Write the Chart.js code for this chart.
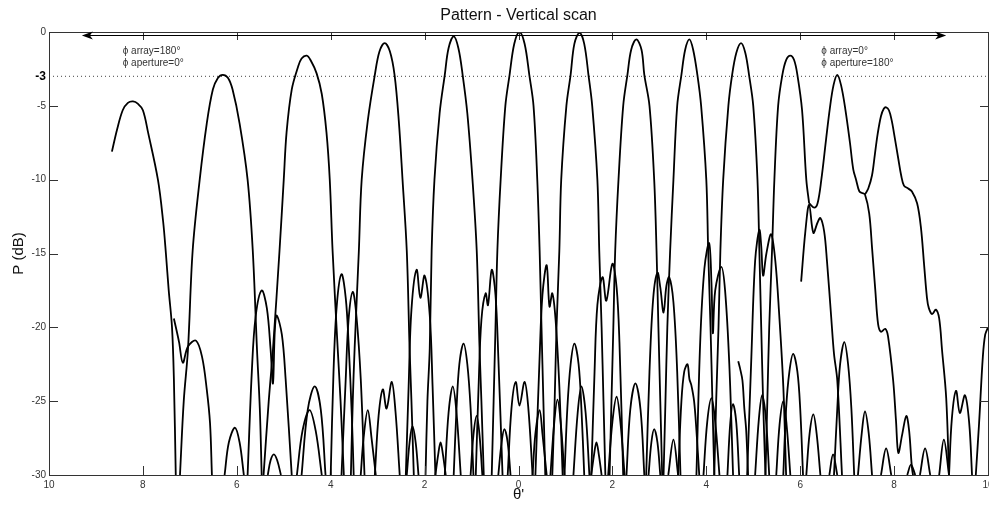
<!DOCTYPE html>
<html><head><meta charset="utf-8">
<script src="https://cdn.jsdelivr.net/npm/chart.js@4"></script>
<style>html,body{margin:0;padding:0;background:#fff;}#c{display:block;}</style>
</head><body>
<canvas id="c" width="989" height="506"></canvas>
<script>
// ---- text ----
const chartTitle = 'Pattern - Vertical scan';
const yTitle = 'P (dB)';
const xTitle = "θ'";
const noteLeft = ['ϕ array=180°', 'ϕ aperture=0°'];
const noteRight = ['ϕ array=0°', 'ϕ aperture=180°'];
const noteLeftX = -8.43, noteRightX = 6.45;
const noteRowsY = [-1.3, -2.1];
// ---- axes ----
const xRange = [-10, 10];
const xStep = 2;
const yRange = [-30, 0];
const yStep = 5;
const halfPowerLevel = -3;
const arrowSpan = [-9.30, 9.11];
const arrowLevel = -0.2;

// ---- main beams [theta, dB] ----
const beam1 = [[-8.66,-8.1],[-8.55,-6.6],[-8.43,-5.3],[-8.32,-4.8],[-8.21,-4.7],[-8.11,-4.85],[-8.0,-5.3],[-7.89,-6.8],[-7.68,-10],[-7.57,-12.8],[-7.51,-15],[-7.45,-17.5],[-7.38,-20],[-7.34,-23.5],[-7.30,-30]];
const beam2 = [[-7.21,-30],[-7.13,-25],[-7.04,-21.5],[-6.94,-14.8],[-6.79,-10],[-6.64,-6.2],[-6.51,-3.9],[-6.40,-3.1],[-6.30,-2.9],[-6.19,-3.1],[-6.09,-3.9],[-5.94,-6.2],[-5.77,-10],[-5.66,-14.8],[-5.57,-21.5],[-5.51,-25.5],[-5.47,-30]];
const beam3 = [[-5.43,-30],[-5.32,-25],[-5.23,-21.5],[-5.09,-14.8],[-5.0,-10],[-4.94,-6.8],[-4.83,-3.9],[-4.70,-2.4],[-4.62,-1.8],[-4.51,-1.6],[-4.43,-1.9],[-4.30,-2.8],[-4.19,-4.2],[-4.09,-6.8],[-4.02,-10],[-3.96,-14.8],[-3.85,-21.5],[-3.79,-25],[-3.72,-30]];
const beam4 = [[-3.57,-30],[-3.53,-25],[-3.49,-21.4],[-3.40,-14.8],[-3.34,-10],[-3.21,-6],[-3.06,-2.9],[-2.96,-1.3],[-2.85,-0.75],[-2.74,-1.3],[-2.64,-2.9],[-2.55,-6],[-2.47,-10],[-2.38,-14.8],[-2.32,-21.4],[-2.28,-25],[-2.23,-30]];
const beam5 = [[-1.98,-30],[-1.94,-25],[-1.89,-21.4],[-1.85,-14.8],[-1.79,-10],[-1.68,-5.5],[-1.57,-2.9],[-1.49,-1.1],[-1.38,-0.3],[-1.28,-1.1],[-1.19,-2.9],[-1.09,-5.5],[-0.98,-10],[-0.89,-14.8],[-0.83,-21.4],[-0.79,-25],[-0.74,-30]];
const beam6 = [[-0.57,-30],[-0.53,-25],[-0.49,-20],[-0.45,-14.8],[-0.38,-10],[-0.28,-5],[-0.19,-2.9],[-0.09,-0.8],[0.02,0],[0.13,-0.8],[0.23,-2.9],[0.32,-5],[0.40,-10],[0.45,-14.8],[0.49,-20],[0.53,-25],[0.57,-30]];
const beam7 = [[0.72,-30],[0.77,-25],[0.81,-20],[0.87,-14.8],[0.91,-10],[1.02,-5],[1.11,-2.9],[1.19,-0.8],[1.30,-0.05],[1.40,-0.8],[1.49,-2.9],[1.57,-5],[1.68,-10],[1.72,-14.8],[1.77,-20],[1.81,-25],[1.85,-30]];
const beam8 = [[1.94,-30],[1.98,-25],[2.02,-20],[2.06,-14.8],[2.13,-10],[2.23,-5],[2.32,-2.9],[2.40,-1.2],[2.51,-0.5],[2.62,-1.2],[2.68,-2.9],[2.79,-5],[2.89,-10],[2.94,-14.8],[2.98,-20],[3.02,-25],[3.06,-30]];
const beam9 = [[3.09,-30],[3.13,-25],[3.17,-20],[3.23,-14.8],[3.30,-10],[3.38,-5],[3.47,-2.9],[3.55,-1.2],[3.64,-0.5],[3.72,-1.2],[3.81,-2.9],[3.89,-5],[4.0,-10],[4.04,-14.8],[4.09,-20],[4.13,-25],[4.17,-30]];
const beam10 = [[4.17,-30],[4.21,-25],[4.26,-20],[4.30,-14.8],[4.36,-10],[4.47,-5],[4.55,-2.9],[4.64,-1.4],[4.74,-0.75],[4.83,-1.4],[4.91,-2.9],[5.0,-5],[5.09,-10],[5.13,-14.8],[5.17,-20],[5.21,-25],[5.26,-30]];
const beam11 = [[5.26,-30],[5.30,-25],[5.34,-20],[5.40,-14.8],[5.45,-10],[5.53,-5],[5.62,-2.9],[5.70,-1.9],[5.79,-1.6],[5.87,-1.9],[5.94,-2.9],[6.04,-5.3],[6.13,-10],[6.19,-11.6]];
const beam12 = [[6.19,-11.6],[6.30,-11.9],[6.37,-11.6],[6.45,-10],[6.55,-7.3],[6.63,-5.2],[6.71,-3.6],[6.79,-2.9],[6.87,-3.6],[6.96,-5.2],[7.06,-7.5],[7.13,-9.3],[7.19,-10],[7.26,-10.8],[7.32,-10.9],[7.38,-11.0],[7.47,-12.3],[7.53,-14.6],[7.60,-17.5],[7.66,-19.8],[7.72,-20.3],[7.81,-20.1],[7.87,-20.6],[7.98,-23.6],[8.04,-26.3],[8.09,-28.5],[8.17,-27.3],[8.26,-26.0],[8.32,-27],[8.38,-29.5],[8.43,-30.5]];
const beam13 = [[7.38,-11.0],[7.45,-10.6],[7.53,-9.7],[7.59,-8.3],[7.65,-6.9],[7.72,-5.7],[7.78,-5.2],[7.83,-5.1],[7.89,-5.3],[7.95,-6.0],[8.0,-6.9],[8.09,-8.6],[8.15,-9.7],[8.21,-10.4],[8.30,-10.6],[8.38,-10.8],[8.49,-11.6],[8.57,-13.2],[8.64,-15.8],[8.70,-18.0],[8.74,-18.7],[8.81,-19.1],[8.89,-18.8],[8.96,-19.4],[9.02,-21.5],[9.11,-24.8],[9.17,-30]];

// ---- partial curves ----
const startLeft = [[-7.34,-19.4],[-7.23,-21.0],[-7.15,-22.4],[-7.04,-21.3],[-6.87,-20.9],[-6.74,-22.0],[-6.64,-24.2],[-6.57,-26.5],[-6.53,-30]];
const startRight = [[6.02,-16.9],[6.11,-13.5],[6.19,-11.7],[6.28,-13.6],[6.37,-12.9],[6.43,-12.6],[6.51,-13.5],[6.57,-15.5],[6.66,-19.3],[6.72,-21.8],[6.79,-23.6],[6.89,-30]];
const edgeRight = [[9.74,-30],[9.81,-26.5],[9.89,-22],[9.94,-20.5],[10.0,-20.0]];
const stubMid = [[4.68,-22.3],[4.72,-22.8],[4.77,-23.6],[4.81,-25.5],[4.85,-27],[4.89,-30]];

// ---- side lobes [theta, dB] ----
const lobesLeft = [
  [[-6.26,-30],[-6.17,-27.8],[-6.04,-26.8],[-5.94,-27.8],[-5.85,-30]],
  [[-5.77,-30],[-5.68,-23],[-5.60,-19.3],[-5.47,-17.5],[-5.36,-18.7],[-5.28,-21.5],[-5.23,-23.8],[-5.19,-20.2],[-5.15,-19.2],[-5.04,-20.5],[-4.96,-23.5],[-4.83,-30]],
  [[-5.34,-30],[-5.28,-29],[-5.21,-28.6],[-5.14,-29],[-5.06,-30]],
  [[-4.62,-30],[-4.49,-25.6],[-4.34,-24],[-4.21,-25.6],[-4.11,-30]],
  [[-4.72,-30],[-4.60,-27],[-4.45,-25.6],[-4.32,-27],[-4.19,-30]],
  [[-4.0,-30],[-3.94,-23],[-3.87,-18.5],[-3.77,-16.4],[-3.68,-18],[-3.62,-21],[-3.55,-26],[-3.51,-30]],
  [[-3.77,-30],[-3.68,-23.5],[-3.62,-19.5],[-3.53,-17.6],[-3.45,-19.3],[-3.36,-23.5],[-3.28,-30]]
];
const lobesCenter = [
  [[-3.36,-30],[-3.30,-27.5],[-3.21,-25.6],[-3.13,-27.5],[-3.04,-30]],
  [[-3.06,-30],[-2.98,-26],[-2.89,-24.2],[-2.81,-25.5],[-2.70,-23.7],[-2.62,-25.7],[-2.53,-30]],
  [[-2.38,-30],[-2.32,-27.8],[-2.26,-26.7],[-2.19,-27.8],[-2.13,-30]],
  [[-2.40,-30],[-2.34,-24],[-2.28,-18.8],[-2.17,-16.1],[-2.09,-18],[-2.0,-16.5],[-1.89,-19.2],[-1.83,-24],[-1.77,-30]],
  [[-1.77,-30],[-1.71,-28.6],[-1.66,-27.8],[-1.61,-28.6],[-1.55,-30]],
  [[-1.57,-30],[-1.49,-25.8],[-1.40,-24],[-1.32,-25.8],[-1.23,-30]],
  [[-1.38,-30],[-1.32,-25.5],[-1.26,-22.5],[-1.17,-21.1],[-1.09,-22.5],[-1.02,-25.5],[-0.96,-30]],
  [[-1.02,-30],[-0.96,-27.3],[-0.89,-26],[-0.83,-27.3],[-0.77,-30]],
  [[-0.91,-30],[-0.85,-24],[-0.79,-19.5],[-0.70,-17.7],[-0.65,-18.5],[-0.57,-16.1],[-0.49,-17.8],[-0.43,-22],[-0.34,-30]],
  [[-0.43,-30],[-0.36,-27.8],[-0.30,-26.9],[-0.23,-27.8],[-0.17,-30]],
  [[-0.23,-30],[-0.15,-25.5],[-0.06,-23.7],[0.02,-25.3],[0.13,-23.7],[0.21,-25.5],[0.30,-30]],
  [[0.30,-30],[0.36,-27.2],[0.45,-25.6],[0.51,-27.2],[0.60,-30]],
  [[0.36,-30],[0.45,-22],[0.51,-17.8],[0.60,-15.8],[0.66,-18.6],[0.72,-17.7],[0.79,-19.5],[0.87,-24],[0.94,-30]],
  [[0.68,-30],[0.76,-26.5],[0.83,-24.9],[0.90,-26.5],[0.98,-30]],
  [[0.98,-30],[1.04,-25.5],[1.11,-22.5],[1.19,-21.1],[1.28,-22.5],[1.34,-25.5],[1.40,-30]],
  [[1.17,-30],[1.26,-25.8],[1.34,-24],[1.43,-25.8],[1.51,-30]],
  [[1.55,-30],[1.61,-28.6],[1.66,-27.8],[1.71,-28.6],[1.77,-30]],
  [[1.55,-30],[1.62,-23],[1.68,-18.5],[1.79,-16.6],[1.87,-18.2],[2.0,-15.7],[2.09,-17.3],[2.15,-21],[2.23,-30]],
  [[1.91,-30],[2.0,-26.4],[2.09,-24.7],[2.17,-26.4],[2.26,-30]],
  [[2.30,-30],[2.38,-25.6],[2.49,-23.8],[2.60,-25.6],[2.68,-30]],
  [[2.77,-30],[2.83,-27.8],[2.89,-26.9],[2.96,-27.8],[3.02,-30]],
  [[2.72,-30],[2.79,-23],[2.87,-18],[2.96,-16.3],[3.02,-17.3],[3.09,-19],[3.15,-17.2],[3.21,-16.6],[3.30,-18.3],[3.38,-23],[3.45,-30]]
];
const lobesRight = [
  [[3.19,-30],[3.30,-27.6],[3.40,-30]],
  [[3.40,-30],[3.47,-25],[3.53,-23],[3.60,-22.5],[3.64,-23.5],[3.68,-23.9],[3.74,-25],[3.79,-27],[3.85,-30]],
  [[3.94,-30],[4.02,-26.4],[4.11,-24.8],[4.19,-26.4],[4.28,-30]],
  [[3.79,-30],[3.87,-21],[3.96,-16],[4.06,-14.3],[4.11,-17],[4.14,-20.4],[4.19,-17.5],[4.32,-15.9],[4.40,-17.5],[4.49,-22.5],[4.57,-30]],
  [[4.45,-30],[4.51,-26.5],[4.57,-25.2],[4.64,-26.5],[4.70,-30]],
  [[4.87,-30],[4.96,-22],[5.04,-15.5],[5.13,-13.4],[5.17,-14.5],[5.21,-16.5],[5.28,-15],[5.38,-13.7],[5.47,-15.5],[5.55,-19],[5.64,-24],[5.70,-30]],
  [[5.04,-30],[5.12,-26.2],[5.19,-24.6],[5.27,-26.2],[5.34,-30]],
  [[5.49,-30],[5.56,-26.6],[5.64,-25],[5.71,-26.6],[5.79,-30]],
  [[5.64,-30],[5.70,-25.5],[5.77,-23],[5.85,-21.8],[5.94,-23],[6.0,-25.5],[6.06,-30]],
  [[6.13,-30],[6.20,-27.2],[6.28,-25.9],[6.35,-27.2],[6.43,-30]],
  [[6.62,-30],[6.70,-28.6],[6.79,-30]],
  [[6.72,-30],[6.79,-25.5],[6.85,-22.5],[6.94,-21.0],[7.02,-22.5],[7.09,-25.5],[7.15,-30]],
  [[7.23,-30],[7.31,-27.2],[7.38,-25.7],[7.46,-27.2],[7.53,-30]],
  [[7.72,-30],[7.83,-28.2],[7.94,-30]],
  [[8.28,-30],[8.36,-29.3],[8.45,-30]],
  [[8.55,-30],[8.66,-28.2],[8.77,-30]],
  [[8.96,-30],[9.06,-27.6],[9.17,-30]],
  [[9.17,-30],[9.23,-26.2],[9.32,-24.3],[9.40,-25.8],[9.51,-24.6],[9.60,-26.5],[9.66,-30]]
];

// ---- build ----
const FONT = '"Liberation Sans", Arial, Helvetica, sans-serif';
const curves = [beam1,beam2,beam3,beam4,beam5,beam6,beam7,beam8,beam9,beam10,beam11,beam12,beam13,
  startLeft,startRight,edgeRight,stubMid, ...lobesLeft, ...lobesCenter, ...lobesRight];
const datasets = curves.map(c => ({
  data: c.map(p => ({x: p[0], y: p[1]})),
  borderColor: '#000', borderWidth: 1.8, pointRadius: 0, fill: false,
  tension: 0.35, clip: 0
}));
datasets.push({
  data: [{x: xRange[0], y: halfPowerLevel}, {x: xRange[1], y: halfPowerLevel}],
  borderColor: '#444', borderWidth: 1, borderDash: [1, 3], pointRadius: 0, fill: false, clip: 0
});

const decorPlugin = {
  id: 'decor',
  afterDraw(chart) {
    const {ctx, chartArea: a, scales: {x, y}} = chart;
    ctx.save();
    ctx.strokeStyle = '#333'; ctx.lineWidth = 1;
    ctx.beginPath();
    ctx.rect(a.left + 0.5, a.top + 0.5, a.right - a.left, a.bottom - a.top);
    y.ticks.forEach(t => {
      if (t.value % yStep !== 0) return;
      const py = Math.round(y.getPixelForValue(t.value)) + 0.5;
      ctx.moveTo(a.left, py); ctx.lineTo(a.left + 9, py);
      ctx.moveTo(a.right - 8, py); ctx.lineTo(a.right + 1, py);
    });
    x.ticks.forEach(t => {
      const px = Math.round(x.getPixelForValue(t.value)) + 0.5;
      ctx.moveTo(px, a.bottom + 1); ctx.lineTo(px, a.bottom - 9);
      ctx.moveTo(px, a.top); ctx.lineTo(px, a.top + 8);
    });
    ctx.stroke();
    // double arrow
    const x1 = x.getPixelForValue(arrowSpan[0]), x2 = x.getPixelForValue(arrowSpan[1]);
    const ay = Math.round(y.getPixelForValue(arrowLevel)) + 0.5;
    ctx.strokeStyle = '#000'; ctx.fillStyle = '#000';
    ctx.beginPath(); ctx.moveTo(x1 + 5, ay); ctx.lineTo(x2 - 5, ay); ctx.stroke();
    ctx.beginPath();
    ctx.moveTo(x1, ay); ctx.lineTo(x1 + 11, ay - 4); ctx.lineTo(x1 + 8, ay); ctx.lineTo(x1 + 11, ay + 4); ctx.closePath();
    ctx.moveTo(x2, ay); ctx.lineTo(x2 - 11, ay - 4); ctx.lineTo(x2 - 8, ay); ctx.lineTo(x2 - 11, ay + 4); ctx.closePath();
    ctx.fill();
    // notes
    ctx.font = '10px ' + FONT; ctx.fillStyle = '#333';
    ctx.textAlign = 'left'; ctx.textBaseline = 'middle';
    noteLeft.forEach((s, i) => ctx.fillText(s, x.getPixelForValue(noteLeftX), y.getPixelForValue(noteRowsY[i])));
    noteRight.forEach((s, i) => ctx.fillText(s, x.getPixelForValue(noteRightX), y.getPixelForValue(noteRowsY[i])));
    ctx.restore();
  }
};

new Chart(document.getElementById('c'), {
  type: 'line',
  data: {datasets},
  options: {
    responsive: false, animation: false, devicePixelRatio: 1, events: [],
    layout: {padding: {left: 0, right: 1, top: 0, bottom: 0}},
    plugins: {
      legend: {display: false}, tooltip: {enabled: false},
      title: {display: true, text: chartTitle, fullSize: false, color: '#111',
        font: {family: FONT, size: 16, weight: 'normal'}, padding: {top: 6, bottom: 6.8}}
    },
    scales: {
      x: {
        type: 'linear', min: xRange[0], max: xRange[1],
        grid: {display: false, drawTicks: false}, border: {display: false},
        ticks: {stepSize: xStep, autoSkip: false, maxRotation: 0, padding: 4, color: '#333',
          font: {family: FONT, size: 10}, callback: v => String(Math.abs(v))},
        title: {display: true, text: xTitle, color: '#111', font: {family: FONT, size: 15}, padding: {top: 0, bottom: 2}},
        afterFit: s => { s.height = 31; s.paddingLeft = 0; s.paddingRight = 0; }
      },
      y: {
        type: 'linear', min: yRange[0], max: yRange[1],
        grid: {display: false, drawTicks: false}, border: {display: false},
        afterBuildTicks: s => { s.ticks.push({value: halfPowerLevel}); s.ticks.sort((a, b) => a.value - b.value); },
        ticks: {stepSize: yStep, autoSkip: false, padding: 3,
          color: c => c.tick && c.tick.value === halfPowerLevel ? '#000' : '#333',
          font: c => (c.tick && c.tick.value === halfPowerLevel) ? {family: FONT, size: 12, weight: 'bold'} : {family: FONT, size: 10},
          callback: v => String(v)},
        title: {display: true, text: yTitle, color: '#111', font: {family: FONT, size: 15}, padding: {top: 10, bottom: 0}},
        afterFit: s => { s.width = 49; s.paddingTop = 0; s.paddingBottom = 0; }
      }
    }
  },
  plugins: [decorPlugin]
});
</script>
</body></html>
